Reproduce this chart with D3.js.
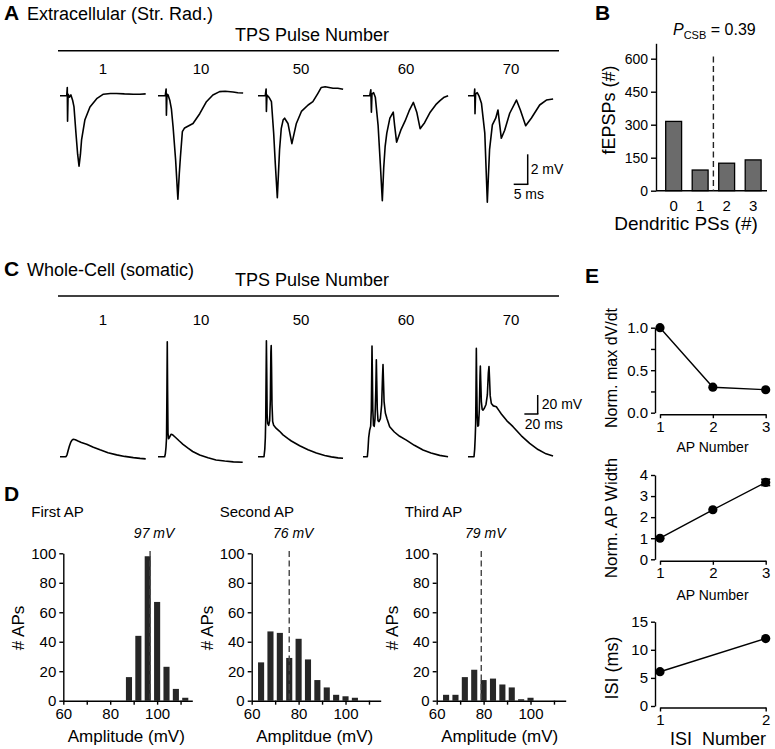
<!DOCTYPE html>
<html><head><meta charset="utf-8">
<script src="https://cdn.jsdelivr.net/npm/d3@7"></script>
<style>
body{margin:0;background:#fff;}
svg{display:block;font-family:"Liberation Sans",Arial,Helvetica,sans-serif;}
</style></head><body>
<svg id="fig" width="775" height="749"></svg>
<script>
// ---------------- DATA ----------------
const pulseNumbers = ["1", "10", "50", "60", "70"];
// Panel A: extracellular field potentials, [time (ms), potential (mV)]
const fepsp1 = [[0,0],[2.4,0],[2.6,0.55],[2.7,-1.7],[2.9,0.1],[3.4,-0.1],[3.9,0.05],[4.5,-0.3],[5.0,-0.75],[5.7,-2.5],[6.3,-3.9],[6.8,-4.7],[7.3,-3.9],[7.7,-2.95],[8.9,-1.6],[10.7,-0.75],[13.1,-0.2],[15.5,0.1],[18,0.15],[20.2,0.15],[23,0.12],[26.2,0.1],[28.5,0.1],[30.6,0.12]];
const fepsp10 = [[0,0],[2.6,0],[2.9,0.45],[3.0,-1.3],[3.2,0.1],[3.6,0.05],[4.2,-0.3],[4.8,-0.9],[5.4,-2.1],[6.3,-4.3],[7.1,-6.9],[7.6,-5.2],[8.0,-4.1],[8.7,-2.4],[9.5,-2.15],[11,-2.0],[12.5,-1.85],[14.9,-1.2],[17.3,-0.4],[19.6,0.05],[22,0.27],[24,0.3],[26.8,0.25],[28.5,0.2],[30.4,0.18]];
const fepsp50 = [[0,0],[2.6,0],[2.9,0.45],[3.0,-1.05],[3.2,0.05],[3.9,-0.1],[4.8,-0.4],[5.6,-2.5],[6.2,-4.6],[6.9,-6.8],[7.3,-5.2],[7.7,-3.6],[8.3,-2.2],[9.0,-1.6],[9.5,-1.5],[10.7,-1.85],[12.1,-3.2],[13.7,-1.85],[15.5,-1.05],[17.9,-0.62],[19.6,-0.4],[21.4,0.16],[22.6,0.55],[24,0.6],[26.8,0.5],[28.5,0.5],[30.4,0.43]];
const fepsp60 = [[0,0],[2.4,0],[2.8,0.4],[3.0,-1.1],[3.2,0.1],[3.8,0.2],[4.4,-0.1],[5.4,-2.0],[6.2,-4.6],[6.9,-7.0],[7.4,-4.8],[7.9,-3.4],[8.5,-2.5],[9.6,-1.5],[10.8,-1.1],[11.3,-2.0],[12.0,-3.1],[13.5,-2.3],[15,-1.7],[16.5,-1.0],[18,-0.45],[19.2,-1.1],[20.4,-2.2],[22,-1.8],[24,-1.1],[26,-0.6],[27.5,-0.33],[29,-0.1],[30.4,0]];
const fepsp70 = [[0,0],[2.2,0],[2.4,0.45],[2.5,-1.2],[2.7,0.1],[3.3,0.2],[4.0,-0.05],[4.8,-0.5],[5.4,-1.5],[6.0,-2.5],[6.9,-7.1],[7.3,-5.3],[7.7,-3.6],[8.7,-1.95],[9.9,-1.5],[10.7,-0.95],[11.9,-2.84],[13.1,-2.3],[14.9,-1.17],[17.3,-0.29],[18.7,-0.95],[20.6,-2.0],[22.6,-1.5],[25.6,-0.62],[28,-0.29],[30.4,-0.22]];

// Panel B
const dendriticPS = ["0", "1", "2", "3"];
const fepspCounts = [315, 94, 125, 140];
const bTicks = [0, 150, 300, 450, 600];
const pcsbValue = "0.39";

// Panel C: somatic whole-cell, [time (ms), potential (mV rel. rest)]
const wc1 = [[0,0],[9,0],[10.5,2],[12,6],[14,11],[16,15],[18,17.5],[20,18.3],[23,17.8],[27,16.5],[32,15],[40,13.2],[50,10],[60,7.2],[72,4.2],[85,1.9],[97,0.3],[110,-1.0],[120,-1.8],[128.5,-2.3]];
const wc10 = [[0,0],[10,0],[11,3],[12,10],[12.8,20],[13.4,70],[13.9,121],[14.4,70],[15,25],[15.8,19],[17,20],[19.5,23.6],[22,23],[26,20.5],[32,16.5],[37.5,13],[45,9],[52,5.5],[62.5,1.8],[75,-1.2],[87,-3.4],[100,-4.6],[113,-5.4],[127,-5.9]];
const wc50 = [[0,0],[9,0],[10.2,8],[11,20],[11.6,40],[12.2,90],[12.6,122],[13.1,90],[13.7,45],[14.5,35],[16,33],[17.5,38],[18.5,60],[19.3,110],[19.8,117],[20.3,95],[21,55],[22,37],[23.5,33],[27,30],[32,27],[37.5,23],[45,19],[50,16.5],[62.5,11.5],[75,7.3],[87.5,3.8],[100,1.2],[110,-0.2],[120,-1.2],[127.5,-1.7]];
const wc60 = [[0,0],[6.5,0],[7.5,8],[8.5,20],[10,28],[11.5,32],[12.5,50],[13.1,90],[13.5,116.5],[14,90],[14.7,50],[15.7,33],[16.8,32],[18,40],[19.2,70],[20,102],[20.6,80],[21.4,50],[22.5,38],[24,37],[26,40],[28,55],[29.3,85],[30,97],[30.7,80],[31.6,58],[33.5,46],[36,40],[40,31.6],[47,26],[55,21.5],[65,17.5],[77,12],[90,7],[102,3.8],[115,1.4],[127.5,0]];
const wc70 = [[0,0],[9,0],[10,8],[10.8,20],[11.5,35],[12,70],[12.5,114],[13,80],[13.7,45],[14.7,32],[15.8,33],[17,50],[18,85],[18.5,95.5],[19.1,80],[20,58],[21.2,50],[22.5,49],[24.5,51],[27,55],[29,65],[30.5,88],[31.5,95],[32.3,82],[33.3,64],[35,56],[38,53.5],[42.5,52.6],[46,49],[50,45],[58,38],[67.5,31.6],[80,22],[92.5,14],[105,7.5],[117,3],[127.5,0.7]];

// Panel D histograms (bin centres in mV, counts)
const firstAPBins = [88, 92, 96, 100, 104, 108, 112];
const firstAPCounts = [16, 44, 98, 67, 23, 8, 2];
const secondAPBins = [64, 68, 72, 76, 80, 84, 88, 92, 96, 100, 104];
const secondAPCounts = [26, 47, 46, 29, 42, 28, 14, 9, 4, 3, 2];
const thirdAPBins = [64, 68, 72, 76, 80, 84, 88, 92, 96, 100];
const thirdAPCounts = [4, 4, 16, 21, 14, 15, 11, 9, 1, 2];
const apMedians = [97, 76, 79];
const histTitles = ["First AP", "Second AP", "Third AP"];
const histXLabels = ["Amplitude (mV)", "Amplitdue (mV)", "Amplitude (mV)"];
const histYTicks = [0, 20, 40, 60, 80, 100];
const histXTicks = [60, 70, 80, 90, 100, 110];

// Panel E
const apNumber = [1, 2, 3];
const normDvdt = [1.0, 0.30, 0.27];
const normWidth = [1.0, 2.35, 3.65];
const normWidthErr = [0, 0, 0.15];
const isiNumber = [1, 2];
const isiMs = [6.1, 12.0];

// ---------------- DRAWING ----------------
const FONT = '"Liberation Sans", Arial, Helvetica, sans-serif';
const svg = d3.select("#fig");

function txt(x, y, s, size, o = {}) {
  const t = svg.append("text").attr("x", x).attr("y", y).attr("font-size", size).attr("fill", "#000").text(s);
  if (o.anchor) t.attr("text-anchor", o.anchor);
  if (o.weight) t.attr("font-weight", o.weight);
  if (o.style) t.attr("font-style", o.style);
  if (o.pre) t.style("white-space", "pre");
  return t;
}
function vtxt(cx, cy, s, size) {
  return svg.append("text").attr("transform", `translate(${cx},${cy}) rotate(-90)`)
    .attr("text-anchor", "middle").attr("dy", "0.35em").attr("font-size", size).attr("fill", "#000").text(s);
}
function styleAxis(g, size) {
  g.attr("font-family", FONT).attr("font-size", size);
  g.selectAll(".domain, .tick line").attr("stroke", "#000").attr("stroke-width", 1.4);
  g.selectAll(".tick text").attr("fill", "#000");
}
function line(x1, y1, x2, y2, w = 1.4, dash = null, col = "#000") {
  const l = svg.append("line").attr("x1", x1).attr("y1", y1).attr("x2", x2).attr("y2", y2)
    .attr("stroke", col).attr("stroke-width", w);
  if (dash) l.attr("stroke-dasharray", dash);
  return l;
}

// ---- Panel A ----
txt(4, 20, "A", 21, {weight: "bold"});
txt(27, 20, "Extracellular (Str. Rad.)", 18);
txt(312, 41, "TPS Pulse Number", 18, {anchor: "middle"});
line(58, 50.7, 559, 50.7, 1.5);
const traceX0 = [60, 158, 258, 363, 468];
const aTraces = [fepsp1, fepsp10, fepsp50, fepsp60, fepsp70];
const aMs = 2.8, aMv = 15, aBase = 95.7;
aTraces.forEach((d, i) => {
  const x = d3.scaleLinear().domain([0, 1]).range([traceX0[i], traceX0[i] + aMs]);
  const y = d3.scaleLinear().domain([0, 1]).range([aBase, aBase - aMv]);
  svg.append("path").datum(d)
    .attr("d", d3.line().x(p => x(p[0])).y(p => y(p[1])))
    .attr("fill", "none").attr("stroke", "#000").attr("stroke-width", 1.6).attr("stroke-linejoin", "round");
  txt(traceX0[i] + 43, 74, pulseNumbers[i], 15, {anchor: "middle"});
});
// scale bar A (2 mV, 5 ms)
{
  const cx = 527.7, cy = 184.3;
  line(cx, cy, cx, cy - 2 * aMv, 1.5);
  line(cx - 5 * aMs, cy, cx + 0.7, cy, 1.5);
  txt(cx + 3, 174, "2 mV", 14);
  txt(cx - 14, 199, "5 ms", 14);
}

// ---- Panel B ----
txt(595, 20, "B", 21, {weight: "bold"});
{
  const yB = d3.scaleLinear().domain([0, 670]).range([190.7, 43.3]);
  const xB = d3.scaleBand().domain(dendriticPS).range([660, 766.8]).paddingInner(0.4).paddingOuter(0.215);
  svg.append("g").selectAll("rect").data(fepspCounts).join("rect")
    .attr("x", (d, i) => xB(dendriticPS[i])).attr("width", xB.bandwidth())
    .attr("y", d => yB(d)).attr("height", d => yB(0) - yB(d))
    .attr("fill", "#6b6b6b").attr("stroke", "#000").attr("stroke-width", 1.3);
  const gy = svg.append("g").attr("transform", "translate(656,0)")
    .call(d3.axisLeft(yB).tickValues(bTicks).tickSize(5).tickSizeOuter(0).tickPadding(3));
  styleAxis(gy, 14);
  const gx = svg.append("g").attr("transform", `translate(0,${yB(0)})`)
    .call(d3.axisBottom(xB).tickSize(0).tickSizeOuter(0).tickPadding(10));
  styleAxis(gx, 15);
  gx.select(".domain").attr("d", `M656,0H767`);
  const xd = (xB("1") + xB.bandwidth() + xB("2")) / 2;
  line(xd, yB(610), xd, yB(0), 1.4, "6,3.5", "#222");
  const t = txt(673, 35, "", 16);
  t.append("tspan").attr("font-style", "italic").text("P");
  t.append("tspan").attr("font-size", 11).attr("dy", 4).text("CSB");
  t.append("tspan").attr("dy", -4).text(" = " + pcsbValue);
  vtxt(609, 110, "fEPSPs (#)", 18);
  txt(686, 230, "Dendritic PSs (#)", 19, {anchor: "middle"});
}

// ---- Panel C ----
txt(4, 276, "C", 21, {weight: "bold"});
txt(27, 276, "Whole-Cell (somatic)", 18);
txt(312, 286, "TPS Pulse Number", 18, {anchor: "middle"});
line(58, 296, 559, 296, 1.5);
const cTraces = [wc1, wc10, wc50, wc60, wc70];
const cMs = 0.667, cMv = 0.95, cBase = 456.7;
cTraces.forEach((d, i) => {
  const x = d3.scaleLinear().domain([0, 1]).range([traceX0[i], traceX0[i] + cMs]);
  const y = d3.scaleLinear().domain([0, 1]).range([cBase, cBase - cMv]);
  svg.append("path").datum(d)
    .attr("d", d3.line().x(p => x(p[0])).y(p => y(p[1])))
    .attr("fill", "none").attr("stroke", "#000").attr("stroke-width", 1.6).attr("stroke-linejoin", "round");
  txt(traceX0[i] + 43, 325, pulseNumbers[i], 15, {anchor: "middle"});
});
{
  const cx = 537.7, cy = 414;
  line(cx, cy, cx, cy - 20 * cMv, 1.5);
  line(cx - 20 * cMs, cy, cx + 0.7, cy, 1.5);
  txt(cx + 4, 409, "20 mV", 14);
  txt(cx - 13, 429, "20 ms", 14);
}

// ---- Panel D ----
txt(4, 501, "D", 21, {weight: "bold"});
const histAxisX = [63.3, 251.7, 436.7];
const histBins = [firstAPBins, secondAPBins, thirdAPBins];
const histCounts = [firstAPCounts, secondAPCounts, thirdAPCounts];
histAxisX.forEach((ax, k) => {
  const x = d3.scaleLinear().domain([60, 115]).range([ax, ax + 129]);
  const y = d3.scaleLinear().domain([0, 100]).range([700.7, 553.3]);
  svg.append("g").selectAll("rect").data(histCounts[k]).join("rect")
    .attr("x", (d, i) => x(histBins[k][i] - 1.3)).attr("width", x(61.3) - x(58.7))
    .attr("y", d => y(d)).attr("height", d => y(0) - y(d))
    .attr("fill", "#262626");
  line(x(apMedians[k]), y(101.5), x(apMedians[k]), y(0), 1.4, "6,3.5", "#444");
  const gy = svg.append("g").attr("transform", `translate(${ax},0)`)
    .call(d3.axisLeft(y).tickValues(histYTicks).tickSize(4).tickSizeOuter(0).tickPadding(3));
  styleAxis(gy, 15);
  const gx = svg.append("g").attr("transform", `translate(0,${y(0)})`)
    .call(d3.axisBottom(x).tickValues(histXTicks).tickFormat(d => d % 20 === 0 ? d : "")
      .tickSize(4).tickSizeOuter(0).tickPadding(4));
  styleAxis(gx, 15);
  txt(ax - 32, 517, histTitles[k], 15);
  txt(x(apMedians[k]) + 4, 538, apMedians[k] + " mV", 14, {anchor: "middle", style: "italic"});
  vtxt(ax - 45, 628, "# APs", 17);
  txt(ax + 63, 742, histXLabels[k], 17, {anchor: "middle"});
});

// ---- Panel E ----
txt(585, 283, "E", 21, {weight: "bold"});
function drawE(opt) {
  const x = d3.scaleLinear().domain(opt.xDomain).range([660, 765.7]);
  const y = d3.scaleLinear().domain(opt.yDomain).range(opt.yRange);
  const gy = svg.append("g").attr("transform", "translate(655,0)")
    .call(d3.axisLeft(y).tickValues(opt.yTicks).tickFormat(opt.yFormat).tickSize(4).tickSizeOuter(0).tickPadding(3));
  styleAxis(gy, 15);
  const gx = svg.append("g").attr("transform", `translate(0,${opt.yRange[0] + 1.5})`)
    .call(d3.axisBottom(x).tickValues(opt.xVals).tickFormat(d3.format("d")).tickSize(4).tickSizeOuter(0).tickPadding(3));
  styleAxis(gx, 15);
  const pts = opt.xVals.map((v, i) => [x(v), y(opt.yVals[i])]);
  svg.append("path").datum(pts).attr("d", d3.line()).attr("fill", "none").attr("stroke", "#000").attr("stroke-width", 1.4);
  if (opt.err) {
    opt.err.forEach((e, i) => {
      if (!e) return;
      const cx = x(opt.xVals[i]);
      line(cx, y(opt.yVals[i] - e), cx, y(opt.yVals[i] + e), 1.4);
      line(cx - 4.5, y(opt.yVals[i] - e), cx + 4.5, y(opt.yVals[i] - e), 1.6);
      line(cx - 4.5, y(opt.yVals[i] + e), cx + 4.5, y(opt.yVals[i] + e), 1.6);
    });
  }
  svg.append("g").selectAll("circle").data(pts).join("circle")
    .attr("cx", d => d[0]).attr("cy", d => d[1]).attr("r", 4.6).attr("fill", "#000");
  vtxt(611.5, opt.yLabelY, opt.yLabel, opt.yLabelSize);
  txt(opt.xLabelX, opt.xLabelY, opt.xLabel, opt.xLabelSize, {anchor: "middle", pre: true});
}
drawE({xDomain: [1, 3], xVals: apNumber, yVals: normDvdt, yDomain: [0, 1], yRange: [412.7, 327.7],
  yTicks: [0, 0.25, 0.5, 0.75, 1], yFormat: d => (d * 2) % 1 === 0 ? d3.format(".1f")(d) : "",
  yLabel: "Norm. max dV/dt", yLabelY: 368, yLabelSize: 16, xLabel: "AP Number", xLabelX: 712.5, xLabelY: 452, xLabelSize: 14});
drawE({xDomain: [1, 3], xVals: apNumber, yVals: normWidth, err: normWidthErr, yDomain: [0, 4], yRange: [559.3, 475],
  yTicks: [0, 1, 2, 3, 4], yFormat: d3.format("d"),
  yLabel: "Norm. AP Width", yLabelY: 518, yLabelSize: 17, xLabel: "AP Number", xLabelX: 712.5, xLabelY: 600, xLabelSize: 14});
drawE({xDomain: [1, 2], xVals: isiNumber, yVals: isiMs, yDomain: [0, 15], yRange: [706, 621.7],
  yTicks: [0, 5, 10, 15], yFormat: d3.format("d"),
  yLabel: "ISI (ms)", yLabelY: 668, yLabelSize: 18, xLabel: "ISI  Number", xLabelX: 718, xLabelY: 745, xLabelSize: 18});
</script>
</body></html>
